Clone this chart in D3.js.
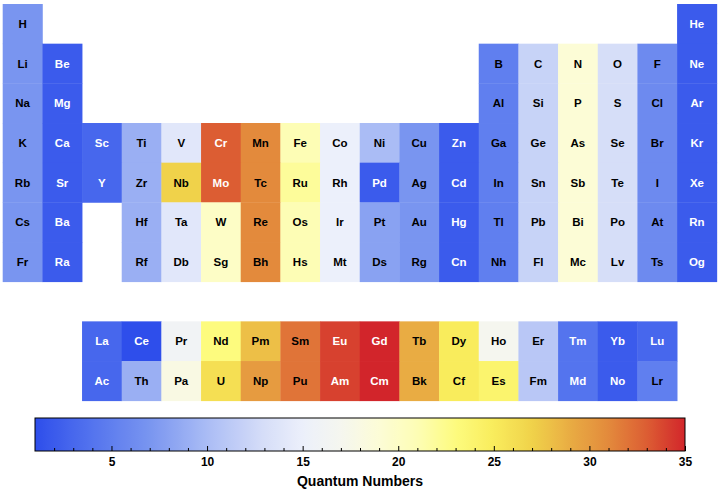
<!DOCTYPE html>
<html>
<head>
<meta charset="utf-8">
<script src="https://cdn.jsdelivr.net/npm/d3@7"></script>
<style>
  html, body { margin: 0; padding: 0; background: #fff; }
  svg { display: block; font-family: "Liberation Sans", Arial, Helvetica, sans-serif; }
</style>
</head>
<body>
<svg id="chart" width="720" height="494"></svg>
<script>
// ---- data (atomic-number order) ----
const symbols = ["H","He","Li","Be","B","C","N","O","F","Ne","Na","Mg","Al","Si","P","S","Cl","Ar",
  "K","Ca","Sc","Ti","V","Cr","Mn","Fe","Co","Ni","Cu","Zn","Ga","Ge","As","Se","Br","Kr",
  "Rb","Sr","Y","Zr","Nb","Mo","Tc","Ru","Rh","Pd","Ag","Cd","In","Sn","Sb","Te","I","Xe",
  "Cs","Ba","La","Ce","Pr","Nd","Pm","Sm","Eu","Gd","Tb","Dy","Ho","Er","Tm","Yb","Lu",
  "Hf","Ta","W","Re","Os","Ir","Pt","Au","Hg","Tl","Pb","Bi","Po","At","Rn",
  "Fr","Ra","Ac","Th","Pa","U","Np","Pu","Am","Cm","Bk","Cf","Es","Fm","Md","No","Lr",
  "Rf","Db","Sg","Bh","Hs","Mt","Ds","Rg","Cn","Nh","Fl","Mc","Lv","Ts","Og"];
const quantumNumbers = [7,2,7,2,5,12,19,13,6,2,7,2,5,12,19,13,6,2,
  7,2,3,9,14,33,31,21,15,10,7,2,5,12,19,13,6,2,
  7,2,3,9,27,33,31,22,15,2,7,2,5,12,19,13,6,2,
  7,2,3,1,16,23,28,32,34,35,29,25,17,11,4,2,3,
  9,14,20,31,21,15,8,7,2,5,12,19,13,6,2,
  7,2,3,9,18,26,30,32,34,35,29,25,24,11,4,2,5,
  9,14,20,31,21,15,8,7,2,5,12,19,13,6,2];
const colorbarTicks = [5,10,15,20,25,30,35];
const colorbarTitle = "Quantum Numbers";
// TemperatureMap-like colour stops
const cmapValues = [1,4,7,10,13,15,17,19,21,23,25,27,29,31,33,35];
const cmapColors = ["#2e4eeb","#5474ee","#7995f0","#aabcf5","#d6def8","#ecf0fb","#f5f6ef","#fcfcd6",
  "#fdfdb5","#fdfb7e","#f9ec5c","#f0d24a","#e9ac43","#e38a3c","#dc5d33","#d2252b"];

// ---- periodic-table placement from atomic number ----
const periodEnds = [2,10,18,36,54,86,118];
function place(Z) {
  let p = 0; while (Z > periodEnds[p]) p++;
  const start = p === 0 ? 1 : periodEnds[p-1] + 1;
  const i = Z - start;
  if (p === 0) return {col: i === 0 ? 1 : 18, row: 0};
  if (p === 1 || p === 2) return {col: i < 2 ? i + 1 : i + 11, row: p};
  if (p === 3 || p === 4) return {col: i + 1, row: p};
  if (i < 2) return {col: i + 1, row: p};
  if (i <= 16) return {col: i + 1, row: p + 3}; // f-block rows, after a one-row gap
  return {col: i - 13, row: p};
}
const cells = symbols.map((s, k) => Object.assign({sym: s, v: quantumNumbers[k]}, place(k + 1)));

const svg = d3.select("#chart");
const cell = 39.67;
const x = d3.scaleBand().domain(d3.range(1, 19)).range([2.7, 2.7 + 18 * cell]).padding(0);
const y = d3.scaleBand().domain(d3.range(0, 10)).range([4, 4 + 10 * cell]).padding(0);
const color = d3.scaleLinear().domain(cmapValues).range(cmapColors).interpolate(d3.interpolateRgb).clamp(true);

const g = svg.append("g");
const cg = g.selectAll("g.cell").data(cells).join("g").attr("class", "cell");
cg.append("rect")
  .attr("x", d => x(d.col)).attr("y", d => y(d.row))
  .attr("width", x.bandwidth() + 0.4).attr("height", y.bandwidth() + 0.4)
  .attr("fill", d => color(d.v));
cg.append("text")
  .attr("x", d => x(d.col) + x.bandwidth() / 2)
  .attr("y", d => y(d.row) + y.bandwidth() / 2)
  .attr("dy", "0.36em")
  .attr("text-anchor", "middle")
  .attr("font-size", "11.5px").attr("font-weight", "bold")
  .attr("fill", d => (d.v <= 4 || d.v >= 33) ? "#ffffff" : "#000000")
  .text(d => d.sym);

// ---- colorbar ----
const cbX0 = 35, cbX1 = 685, cbY0 = 418, cbY1 = 451;
const cx = d3.scaleLinear().domain([1, 35]).range([cbX0, cbX1]);
const defs = svg.append("defs");
const grad = defs.append("linearGradient").attr("id", "cbgrad").attr("x1", "0%").attr("x2", "100%").attr("y1", "0%").attr("y2", "0%");
d3.range(0, 101).forEach(i => {
  const v = 1 + 34 * i / 100;
  grad.append("stop").attr("offset", i + "%").attr("stop-color", color(v));
});
svg.append("rect").attr("x", cbX0).attr("y", cbY0).attr("width", cbX1 - cbX0).attr("height", cbY1 - cbY0)
  .attr("fill", "url(#cbgrad)").attr("stroke", "#000").attr("stroke-width", 1);

const minor = d3.range(2, 35).filter(v => v % 5 !== 0);
const minorAxis = svg.append("g").attr("transform", `translate(0,${cbY1})`)
  .call(d3.axisBottom(cx).tickValues(minor).tickSize(-3).tickFormat(""));
minorAxis.select(".domain").remove();
const majorAxis = svg.append("g").attr("transform", `translate(0,${cbY1})`)
  .call(d3.axisBottom(cx).tickValues(colorbarTicks).tickSize(-5).tickPadding(6).tickFormat(d3.format("d")));
majorAxis.select(".domain").remove();
svg.selectAll(".tick line").attr("stroke", "#000");
majorAxis.selectAll("text").attr("font-size", "12px").attr("font-weight", "bold").attr("fill", "#000")
  .attr("font-family", "Liberation Sans, Arial, sans-serif");

svg.append("text").attr("x", 360).attr("y", 486).attr("text-anchor", "middle")
  .attr("font-size", "14px").attr("font-weight", "bold").attr("fill", "#000")
  .text(colorbarTitle);
</script>
</body>
</html>
